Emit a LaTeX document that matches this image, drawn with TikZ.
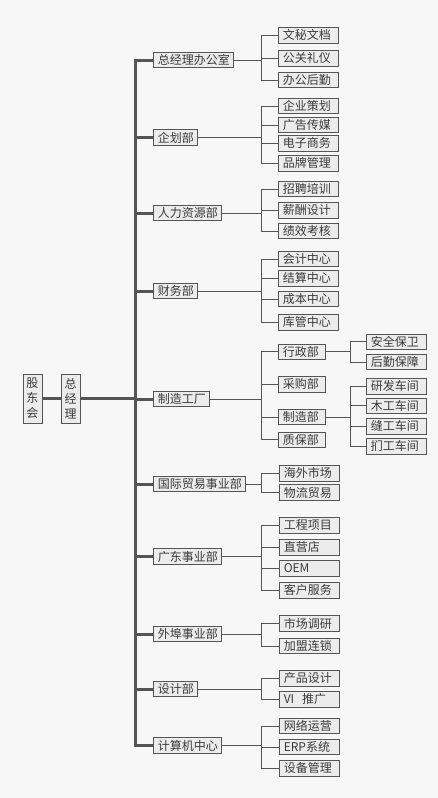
\documentclass[tikz,border=0pt]{standalone}
\usepackage{fontspec}
\newfontfamily\cjk{Noto Sans CJK SC}
\definecolor{bggray}{HTML}{F7F7F7}
\definecolor{boxgray}{HTML}{ECECEC}
\definecolor{linegray}{HTML}{555555}
\definecolor{textgray}{HTML}{3A3A3A}

\begin{document}
\begin{tikzpicture}[
		x=1pt, y=-1pt,
		box/.style={draw=linegray, fill=boxgray, line width=0.9pt, text=textgray, inner xsep=4pt, inner ysep=0pt, minimum height=15.5pt, anchor=west, font=\cjk\fontsize{12}{12}\selectfont},
		leaf/.style={box, text width=52pt, align=left},
		midbox/.style={box, text width=39pt, align=left},
		vbox/.style={draw=linegray, fill=boxgray, line width=0.9pt, text=textgray, minimum width=19pt, minimum height=49pt, inner sep=0pt, text width=12pt, align=center, font=\cjk\fontsize{12}{15}\selectfont},
		link/.style={draw=linegray, line width=1pt},
		trunk/.style={draw=linegray, line width=3pt}
		]
		
		% Background and frame size
		\fill[bggray] (0,0) rectangle (438,798);
		\useasboundingbox (0,0) rectangle (438,798);
		
		% Bus lines
		\coordinate (spine) at (135,0);
		\coordinate (bus) at (261.7,0);
		\coordinate (subbus) at (350.3,0);
		
		% Top of the chart
		\node[vbox] (board) at (32.5,398.5) {股\\东\\会};
		\node[vbox] (gm) at (70.5,398.5) {总\\经\\理};
		\draw[trunk] (board.east |- gm.west) -- (gm.west);
		
		% Departments on the spine
		\foreach \id/\y/\t in {office/60/总经理办公室, plan/137.5/企划部, hr/213/人力资源部, fin/291/财务部, fac/399/制造工厂, intl/484/国际贸易事业部, gd/556.5/广东事业部, ext/634/外埠事业部, des/689/设计部, it/745.5/计算机中心} {
			\node[box] (\id) at (153.3,\y) {\t};
			\draw[trunk] (gm.east) -| (spine |- \id.west) -- (\id.west);
		}
		
		% Sections of each department
		\foreach \n/\y/\t in {1/35.3/文秘文档, 2/58.3/公关礼仪, 3/80/办公后勤} {
			\node[leaf] (office\n) at (278.3,\y) {\t};
			\draw[link] (office.east) -| (bus |- office\n.west) -- (office\n.west);
		}
		\foreach \n/\y/\t in {1/106/企业策划, 2/125/广告传媒, 3/143.3/电子商务, 4/163.3/品牌管理} {
			\node[leaf] (plan\n) at (278.3,\y) {\t};
			\draw[link] (plan.east) -| (bus |- plan\n.west) -- (plan\n.west);
		}
		\foreach \n/\y/\t in {1/189/招聘培训, 2/210.3/薪酬设计, 3/231/绩效考核} {
			\node[leaf] (hr\n) at (278.3,\y) {\t};
			\draw[link] (hr.east) -| (bus |- hr\n.west) -- (hr\n.west);
		}
		\foreach \n/\y/\t in {1/259/会计中心, 2/278.3/结算中心, 3/299/成本中心, 4/322.3/库管中心} {
			\node[leaf] (fin\n) at (278.3,\y) {\t};
			\draw[link] (fin.east) -| (bus |- fin\n.west) -- (fin\n.west);
		}
		\foreach \n/\y/\t in {admin/351.8/行政部, buy/384.3/采购部, make/417/制造部, qa/439.8/质保部} {
			\node[midbox] (fac\n) at (278.3,\y) {\t};
			\draw[link] (fac.east) -| (bus |- fac\n.west) -- (fac\n.west);
		}
		\foreach \n/\y/\t in {1/473.3/海外市场, 2/492.5/物流贸易} {
			\node[leaf] (intl\n) at (279.3,\y) {\t};
			\draw[link] (intl.east) -| (bus |- intl\n.west) -- (intl\n.west);
		}
		\foreach \n/\y/\t in {1/525.3/工程项目, 2/547.3/直营店, 3/568.3/OEM, 4/590.3/客户服务} {
			\node[leaf] (gd\n) at (279.3,\y) {\t};
			\draw[link] (gd.east) -| (bus |- gd\n.west) -- (gd\n.west);
		}
		\foreach \n/\y/\t in {1/623.5/市场调研, 2/646/加盟连锁} {
			\node[leaf] (ext\n) at (279.3,\y) {\t};
			\draw[link] (ext.east) -| (bus |- ext\n.west) -- (ext\n.west);
		}
		\foreach \n/\y/\t in {1/678.3/产品设计, 2/699.3/VI\ \ 推广} {
			\node[leaf] (des\n) at (279.3,\y) {\t};
			\draw[link] (des.east) -| (bus |- des\n.west) -- (des\n.west);
		}
		\foreach \n/\y/\t in {1/726/网络运营, 2/747/ERP系统, 3/768.3/设备管理} {
			\node[leaf] (it\n) at (279.3,\y) {\t};
			\draw[link] (it.east) -| (bus |- it\n.west) -- (it\n.west);
		}
		
		% Units of the factory
		\foreach \n/\y/\t in {1/341.8/安全保卫, 2/362/后勤保障} {
			\node[leaf] (admin\n) at (366.3,\y) {\t};
			\draw[link] (facadmin.east) -| (subbus |- admin\n.west) -- (admin\n.west);
		}
		\foreach \n/\y/\t in {1/386.2/研发车间, 2/405.8/木工车间, 3/426.2/缝工车间, 4/446.2/扪工车间} {
			\node[leaf] (make\n) at (366.3,\y) {\t};
			\draw[link] (facmake.east) -| (subbus |- make\n.west) -- (make\n.west);
		}
		
	\end{tikzpicture}
\end{document}
